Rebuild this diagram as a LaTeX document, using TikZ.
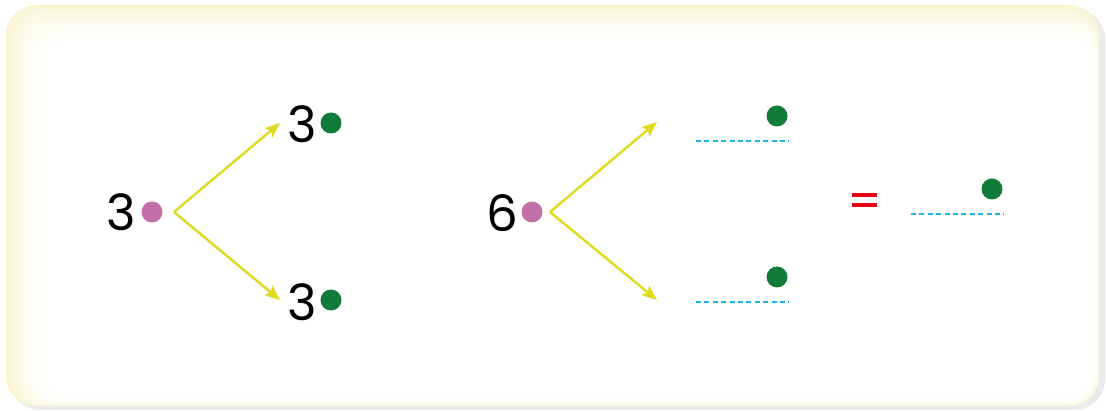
\documentclass[tikz,border=0pt]{standalone}
\usepackage{fontspec}
\setmainfont{Poppins}
\usetikzlibrary{arrows.meta}
\definecolor{bgyel}{HTML}{F7F5D2}
\definecolor{pinkdot}{HTML}{C470A8}
\definecolor{greendot}{HTML}{137B3A}
\definecolor{arrowyel}{HTML}{DEDA1E}
\definecolor{dashblue}{HTML}{1EB4E8}
\definecolor{eqred}{HTML}{E30613}
\tikzset{
  pdot/.style={circle,fill=pinkdot,inner sep=0pt,minimum size=21pt},
  gdot/.style={circle,fill=greendot,inner sep=0pt,minimum size=21pt},
  num/.style={inner sep=0pt,font=\fontsize{50}{50}\selectfont},
  branch/.style={draw=arrowyel,line width=2.4pt,-{Stealth[length=15pt,width=12pt,inset=3pt]}},
  blank/.style={draw=dashblue,line width=1.6pt,dash pattern=on 5pt off 3.4pt},
}
\begin{document}
\begin{tikzpicture}[x=1pt,y=-1pt]
\useasboundingbox (0,0) rectangle (1106,411);
% shadow
\fill[black!8,rounded corners=30pt] (10,9) rectangle (1105,410);
% background gradient frame
\foreach \i in {0,...,30}{
  \pgfmathsetmacro{\t}{\i/30}
  \pgfmathsetmacro{\c}{100*(1-\t)*(1-\t)}
  \pgfmathsetmacro{\rb}{12*\t*\t}
  \pgfmathsetmacro{\rr}{8*\t*\t}
  \fill[bgyel!\c!white,rounded corners=30pt]
    (6+44*\t,5+40*\t) rectangle (1099-\rr,406-\rb);
}
% left tree
\node[num] (l3) at (121,212) {3};
\node[pdot] (lp) at (152,212) {};
\coordinate (lo) at (174,212);
\node[num] (lt3) at (302,124) {3};
\node[gdot] (ltg) at (331,123) {};
\node[num] (lb3) at (302,302) {3};
\node[gdot] (lbg) at (331,300) {};
\coordinate (lta) at (280,123);
\coordinate (lba) at (280,300);
\draw[branch] (lo) -- (lta);
\draw[branch] (lo) -- (lba);
% right tree
\node[num] (r6) at (502,213) {6};
\node[pdot] (rp) at (532,212) {};
\coordinate (ro) at (550,212);
\coordinate (rta) at (657,122);
\coordinate (rba) at (657,300);
\draw[branch] (ro) -- (rta);
\draw[branch] (ro) -- (rba);
\node[gdot] (rtg) at (777,116) {};
\coordinate (rt1) at (696,141);
\coordinate (rt2) at (789,141);
\draw[blank] (rt1) -- (rt2);
\node[gdot] (rbg) at (777,277) {};
\coordinate (rb1) at (696,302);
\coordinate (rb2) at (789,302);
\draw[blank] (rb1) -- (rb2);
% equals
\node[inner sep=0pt] (eq) at (864,200) {};
\fill[eqred] (852,193) rectangle (877,197);
\fill[eqred] (852,203) rectangle (877,207);
\node[gdot] (eg) at (992,189) {};
\coordinate (e1) at (911,214);
\coordinate (e2) at (1004,214);
\draw[blank] (e1) -- (e2);
\end{tikzpicture}
\end{document}
